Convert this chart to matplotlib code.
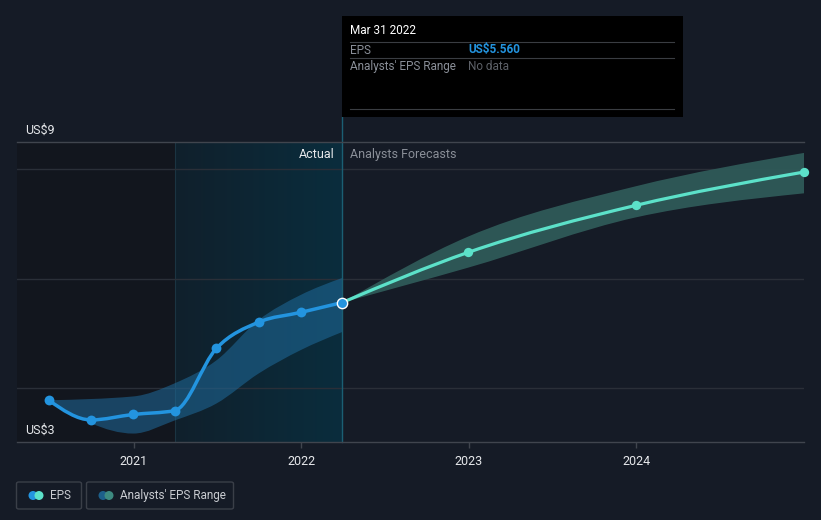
import numpy as np
import matplotlib
matplotlib.use("Agg")
import matplotlib.pyplot as plt
import matplotlib.dates as mdates
from matplotlib.path import Path
from matplotlib.patches import PathPatch, FancyBboxPatch, Rectangle
from datetime import datetime

plt.rcParams['font.family'] = ['Roboto', 'DejaVu Sans']

# --- data ---
eps_dates = ["2020-06-30", "2020-09-30", "2020-12-31", "2021-03-31",
             "2021-06-30", "2021-09-30", "2021-12-31", "2022-03-31"]
eps_values = [3.77, 3.41, 3.51, 3.58, 4.72, 5.20, 5.38, 5.56]
eps_range_hi = [3.77, 3.84, 4.08, 4.50, 5.24, 5.70, 6.01]
eps_range_lo = [3.77, 3.16, 3.40, 3.71, 4.26, 4.69, 5.02]
range_dates = ["2020-06-30", "2020-12-31", "2021-03-31", "2021-06-30",
               "2021-09-30", "2021-12-31", "2022-03-31"]

fc_dates = ["2022-03-31", "2022-12-31", "2023-12-31", "2024-12-31"]
fc_values = [5.56, 6.48, 7.34, 7.95]
fc_hi = [5.56, 6.77, 7.69, 8.30]
fc_lo = [5.56, 6.20, 7.12, 7.56]

year_ticks = ["2021", "2022", "2023", "2024"]
grid_values = [4, 6, 8]

BG = "#151b26"
BLUE = "#2394df"
MINT = "#5ce1c9"


def to_num(ds):
    return mdates.date2num([datetime.strptime(d, "%Y-%m-%d") for d in ds])


def mono_tangents(x, y):
    x = np.asarray(x, float); y = np.asarray(y, float)
    n = len(x)
    t = np.zeros(n)
    h = np.diff(x); s = np.diff(y) / h
    for i in range(1, n - 1):
        p = (s[i - 1] * h[i] + s[i] * h[i - 1]) / (h[i - 1] + h[i])
        t[i] = (np.sign(s[i - 1]) + np.sign(s[i])) * min(abs(s[i - 1]), abs(s[i]), 0.5 * abs(p))
    if n > 2:
        t[0] = (3 * s[0] - t[1]) / 2
        t[-1] = (3 * s[-1] - t[-2]) / 2
    else:
        t[0] = t[-1] = s[0]
    return t


def mono_verts(x, y):
    # bezier segments (d3 monotoneX style), drawn by matplotlib Path
    t = mono_tangents(x, y)
    verts = [(x[0], y[0])]
    codes = [Path.MOVETO]
    for i in range(len(x) - 1):
        dx = (x[i + 1] - x[i]) / 3
        verts += [(x[i] + dx, y[i] + t[i] * dx),
                  (x[i + 1] - dx, y[i + 1] - t[i + 1] * dx),
                  (x[i + 1], y[i + 1])]
        codes += [Path.CURVE4] * 3
    return verts, codes


def band_patch(x, hi, lo, **kw):
    v1, c1 = mono_verts(x, hi)
    v2, c2 = mono_verts(x[::-1], lo[::-1])
    c2[0] = Path.LINETO
    verts = v1 + v2 + [v1[0]]
    codes = c1 + c2 + [Path.CLOSEPOLY]
    return PathPatch(Path(verts, codes), **kw)


def line_patch(x, y, **kw):
    v, c = mono_verts(x, y)
    return PathPatch(Path(v, c), fill=False, **kw)


fig = plt.figure(figsize=(8.21, 5.2), dpi=100, facecolor=BG)
ax = fig.add_axes([16.7 / 821, (520 - 442.3) / 520, (804 - 16.7) / 821, (442.3 - 142) / 520])
ax.set_facecolor(BG)

x_eps = to_num(eps_dates)
x_rng = to_num(range_dates)
x_fc = to_num(fc_dates)

x_left = mdates.date2num(datetime(2020, 4, 21))
x_right = mdates.date2num(datetime(2024, 12, 31))
ax.set_xlim(x_left, x_right)
ax.set_ylim(3, 8.5)

# past region darker, last-year region highlighted with gradient
ax.axvspan(x_left, x_eps[3], color="#12161e", zorder=0, lw=0)
grad = np.linspace(0, 1, 256).reshape(1, -1)
cmap = matplotlib.colors.LinearSegmentedColormap.from_list("hl", ["#10202c", "#0a2d3d"])
ax.imshow(grad, cmap=cmap, aspect="auto", extent=[x_eps[3], x_eps[-1], 3, 8.5], zorder=0.5)
ax.axvline(x_eps[3], color="#1b3442", lw=0.8, zorder=0.6)

for g in grid_values:
    ax.axhline(g, color="#2a2f38", lw=1, zorder=0.7)

ax.add_patch(band_patch(x_rng, np.array(eps_range_hi), np.array(eps_range_lo),
                        facecolor="#1f6b9c", alpha=0.55, lw=0, zorder=1))
ax.add_patch(band_patch(x_fc, np.array(fc_hi), np.array(fc_lo),
                        facecolor="#2f5a58", alpha=0.95, lw=0, zorder=1))

ax.add_patch(line_patch(x_eps, eps_values, edgecolor=BLUE, lw=2.5, zorder=3, capstyle="round"))
ax.add_patch(line_patch(x_fc, fc_values, edgecolor=MINT, lw=2.3, zorder=3, capstyle="round"))
ax.scatter(x_eps[:-1], eps_values[:-1], s=50, color=BLUE, zorder=4, lw=0)
ax.scatter(x_fc[1:], fc_values[1:], s=45, color=MINT, zorder=4, lw=0, clip_on=False)
ax.scatter([x_eps[-1]], [eps_values[-1]], s=55, color=BLUE, edgecolor="white", lw=1, zorder=5)

# vertical marker line at current date, extends up to tooltip
ax.plot([x_eps[-1], x_eps[-1]], [3, 8.5 + 25 / 54.3], color="#1b5f73", lw=1,
        zorder=2, clip_on=False)

for s in ["left", "right"]:
    ax.spines[s].set_visible(False)
for s in ["top", "bottom"]:
    ax.spines[s].set_color("#40454e")
    ax.spines[s].set_linewidth(1)

ax.set_yticks([])
ax.set_xticks(to_num([y + "-01-01" for y in year_ticks]))
ax.set_xticklabels(year_ticks)
ax.tick_params(axis="x", colors="#40454e", length=4, width=1, labelcolor="#e6e8eb",
               labelsize=9, pad=5)

ax.annotate("Actual", (x_eps[-1], 8.5 - 12 / 54.3), xytext=(-8, 0), textcoords="offset pixels",
            color="#e6e8eb", fontsize=9, ha="right", va="center")
ax.annotate("Analysts Forecasts", (x_eps[-1], 8.5 - 12 / 54.3), xytext=(8, 0),
            textcoords="offset pixels", color="#8a8f98", fontsize=9, ha="left", va="center")

fig.text(25 / 821, 1 - 130 / 520, "US$9", color="#e6e8eb", fontsize=9, va="center")
fig.text(25 / 821, 1 - 430 / 520, "US$3", color="#e6e8eb", fontsize=9, va="center")

# tooltip box
W, H = 821.0, 520.0
fig.patches.append(Rectangle((342 / W, 1 - 117 / H), (683 - 342) / W, (117 - 16) / H,
                             transform=fig.transFigure, facecolor="black", edgecolor="none",
                             zorder=5))
for yy in [42, 58, 109]:
    fig.lines.append(plt.Line2D([350 / W, 674 / W], [1 - yy / H, 1 - yy / H],
                                transform=fig.transFigure, color="#3a3d42", lw=0.8, zorder=6))
fig.text(350 / W, 1 - 31 / H, "Mar 31 2022", color="white", fontsize=8.5, va="center", zorder=7)
fig.text(350 / W, 1 - 50 / H, "EPS", color="#8a8f98", fontsize=8.5, va="center", zorder=7)
fig.text(468 / W, 1 - 50 / H, "US$5.560", color=BLUE, fontsize=8.5, va="center",
         weight="bold", zorder=7)
fig.text(350 / W, 1 - 66.5 / H, "Analysts' EPS Range", color="#8a8f98", fontsize=8.5,
         va="center", zorder=7)
fig.text(468 / W, 1 - 66.5 / H, "No data", color="#5d6168", fontsize=8.5, va="center", zorder=7)

# legend boxes
for (x0, x1) in [(16.5, 81.5), (86.5, 233.5)]:
    fig.patches.append(FancyBboxPatch((x0 / W, 1 - 509 / H), (x1 - x0) / W, 27 / H,
                                      boxstyle="round,pad=0,rounding_size=0.003",
                                      transform=fig.transFigure, facecolor="none",
                                      edgecolor="#3a3f48", lw=1))
legend_items = [("EPS", BLUE, MINT, 50), ("Analysts' EPS Range", "#1d5f8a", "#3d8a80", 120)]
for label, c1, c2, tx in legend_items:
    icon_x = tx - 15
    fig.patches.append(matplotlib.patches.Ellipse(((icon_x - 2) / W, 1 - 495.5 / H), 9 / W, 9 / H,
                                                  transform=fig.transFigure, facecolor=c1,
                                                  edgecolor="none"))
    fig.patches.append(matplotlib.patches.Ellipse(((icon_x + 4) / W, 1 - 495.5 / H), 9 / W, 9 / H,
                                                  transform=fig.transFigure, facecolor=c2,
                                                  edgecolor="none"))
    fig.text(tx / W, 1 - 495.5 / H, label, color="#c9ccd1", fontsize=8.5, va="center")

fig.savefig("out.png", dpi=100, facecolor=BG)
